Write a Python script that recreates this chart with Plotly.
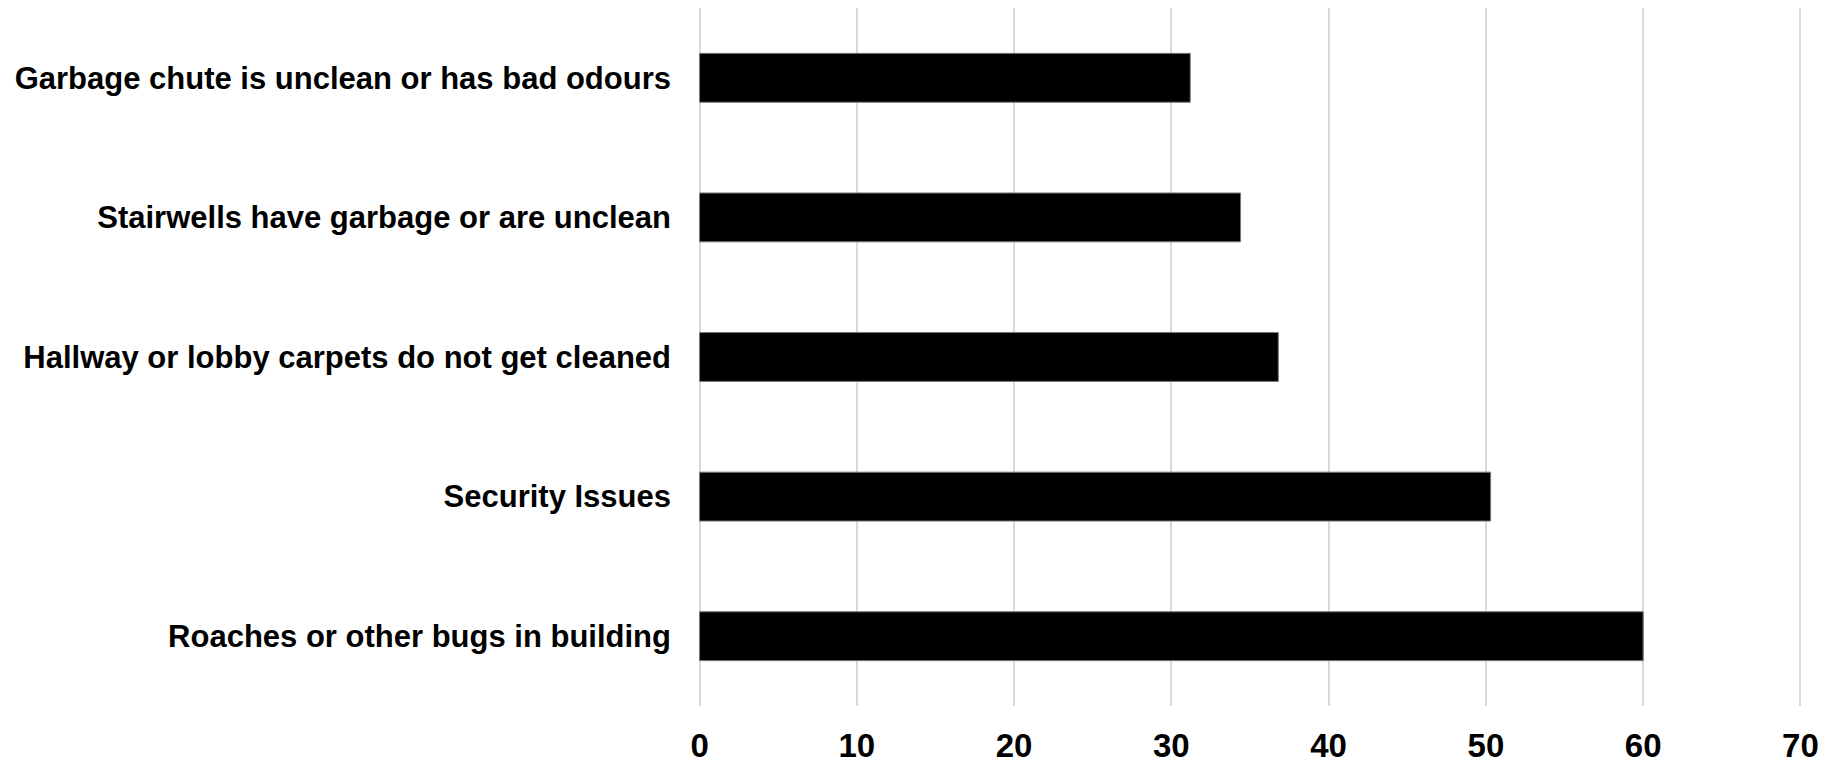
import plotly.graph_objects as go

categories = [
    "Garbage chute is unclean or has bad odours",
    "Stairwells have garbage or are unclean",
    "Hallway or lobby carpets do not get cleaned",
    "Security Issues",
    "Roaches or other bugs in building",
]
values = [31.2, 34.4, 36.8, 50.3, 60.0]
x_ticks = [0, 10, 20, 30, 40, 50, 60, 70]

fig = go.Figure(
    go.Bar(
        x=values,
        y=categories,
        orientation="h",
        marker=dict(color="#000000", line=dict(color="#777777", width=1)),
    )
)

font_family = "Liberation Sans, Arial, sans-serif"

fig.update_layout(
    width=1825,
    height=758,
    paper_bgcolor="white",
    plot_bgcolor="white",
    margin=dict(l=690, r=31, t=0, b=60),
    showlegend=False,
    bargap=0.65,
    xaxis=dict(
        range=[-0.1, 70.1],
        tickvals=x_ticks,
        ticktext=[str(v) for v in x_ticks],
        showgrid=True,
        gridcolor="#d9d9d9",
        gridwidth=1.5,
        zeroline=False,
        showline=False,
        tickfont=dict(family=font_family, size=33, color="#000000", weight="bold"),
        ticklabelstandoff=17,
    ),
    yaxis=dict(
        categoryorder="array",
        categoryarray=categories,
        autorange="reversed",
        showgrid=False,
        zeroline=False,
        showline=False,
        tickfont=dict(family=font_family, size=31, color="#000000", weight="bold"),
        ticklabelstandoff=26,
    ),
)

fig.write_html("out.html")
